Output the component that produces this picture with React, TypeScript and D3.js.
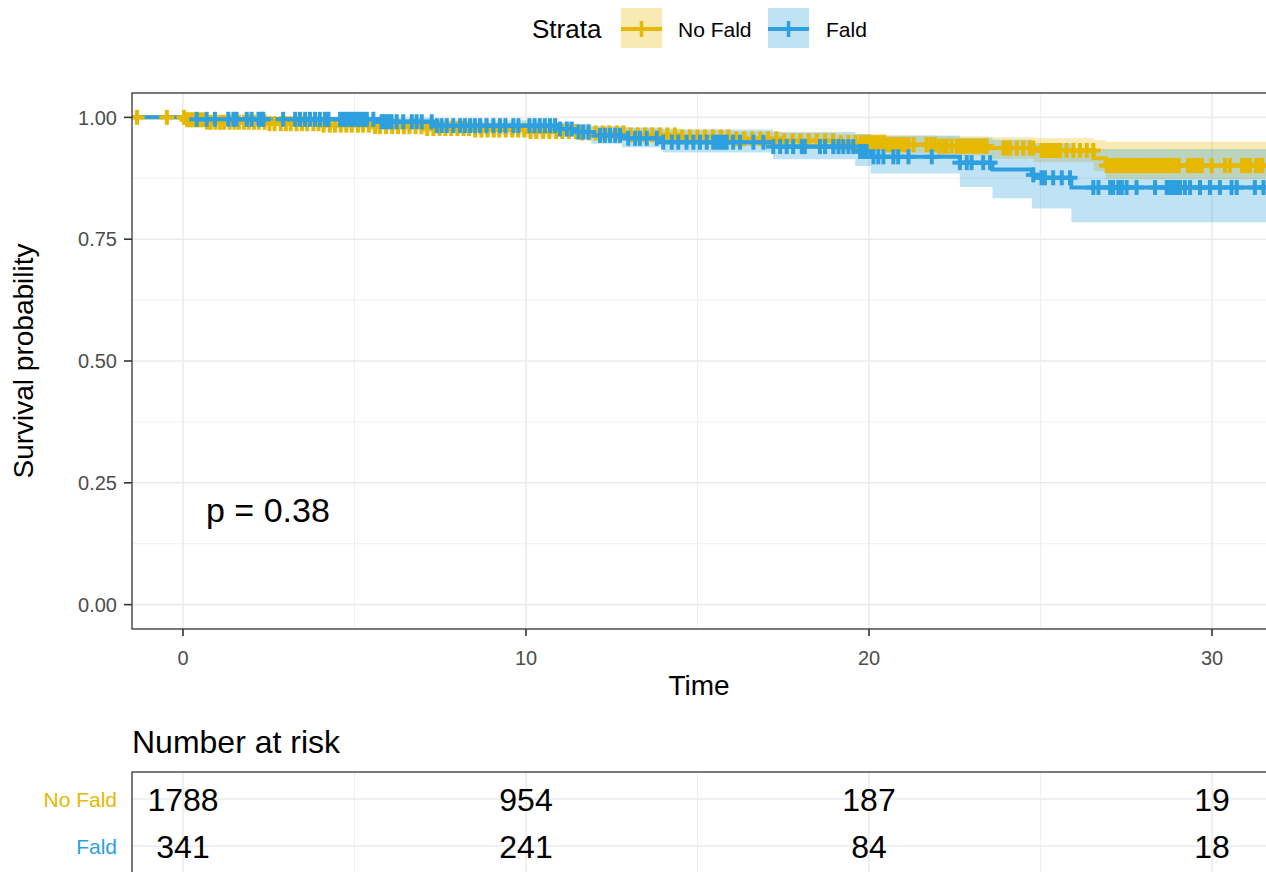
import React from "react";
import * as d3 from "d3";

// strata + palette
const strataNames = ["No Fald", "Fald"];
const strataColors = ["#E7B800", "#2E9FDF"];

// Kaplan-Meier steps
const noFaldTime = [-1.45, 0.05, 0.6, 2.5, 4.0, 5.5, 7.0, 8.5, 10.0, 11.5, 13.0, 14.5, 16.0, 17.5, 19.0, 20.5, 22.0, 23.5, 24.8, 26.55, 26.9];
const noFaldSurv = [1, 0.995, 0.99, 0.987, 0.984, 0.981, 0.977, 0.974, 0.971, 0.968, 0.964, 0.96, 0.956, 0.952, 0.948, 0.944, 0.941, 0.937, 0.932, 0.916, 0.901];
const noFaldLower = [1, 0.992, 0.985, 0.981, 0.977, 0.973, 0.968, 0.964, 0.96, 0.956, 0.951, 0.946, 0.941, 0.936, 0.931, 0.926, 0.921, 0.915, 0.908, 0.89, 0.873];
const noFaldUpper = [1, 0.998, 0.995, 0.993, 0.991, 0.989, 0.986, 0.984, 0.982, 0.98, 0.977, 0.974, 0.971, 0.968, 0.966, 0.963, 0.961, 0.959, 0.957, 0.953, 0.95];

const faldTime = [-1.45, 0.3, 5.7, 7.3, 10.9, 11.4, 11.9, 12.8, 14.0, 17.2, 19.6, 20.05, 22.65, 23.6, 24.75, 25.0, 25.9];
const faldSurv = [1, 0.996, 0.991, 0.983, 0.976, 0.97, 0.963, 0.957, 0.949, 0.94, 0.93, 0.919, 0.907, 0.893, 0.882, 0.876, 0.856];
const faldLower = [1, 0.99, 0.983, 0.972, 0.962, 0.954, 0.946, 0.938, 0.928, 0.914, 0.9, 0.885, 0.857, 0.834, 0.813, 0.813, 0.785];
const faldUpper = [1, 1, 0.999, 0.994, 0.99, 0.987, 0.983, 0.979, 0.975, 0.97, 0.966, 0.963, 0.958, 0.954, 0.947, 0.947, 0.935];

// censoring times
const noFaldCensor = [-1.34, -0.47, 0.03, 0.12, 0.2, 0.29, 0.38, 0.47, 0.58, 0.7, 0.81, 0.95, 1.08, 1.2, 1.36, 1.5, 1.63, 1.78, 1.92, 2.07, 2.21, 2.38, 2.52, 2.67, 2.85, 3.0, 3.14, 3.31, 3.47, 3.62, 3.8, 3.95, 4.1, 4.28, 4.43, 4.6, 4.76, 4.92, 5.1, 5.25, 5.42, 5.6, 5.74, 5.92, 6.1, 6.27, 6.44, 6.6, 6.78, 6.95, 7.12, 7.3, 7.48, 7.65, 7.82, 8.0, 8.18, 8.34, 8.52, 8.7, 8.88, 9.06, 9.22, 9.41, 9.6, 9.77, 9.95, 10.13, 10.3, 10.5, 10.68, 10.88, 11.06, 11.25, 11.45, 11.63, 11.84, 12.03, 12.24, 12.43, 12.65, 12.84, 13.05, 13.26, 13.47, 13.68, 13.9, 14.12, 14.34, 14.55, 14.78, 15.0, 15.22, 15.45, 15.68, 15.9, 16.13, 16.36, 16.6, 16.83, 17.06, 17.3, 17.53, 17.77, 18.0, 18.24, 18.48, 18.72, 18.95, 19.18, 19.4, 19.6, 19.75, 19.85, 19.95, 20.05, 20.15, 20.25, 20.35, 20.45, 20.55, 20.65, 20.75, 20.85, 20.95, 21.05, 21.15, 21.3, 21.68, 21.8, 21.92, 22.05, 22.17, 22.27, 22.41, 22.56, 22.65, 22.75, 22.85, 22.95, 23.05, 23.15, 23.25, 23.35, 23.43, 23.92, 24.0, 24.11, 24.31, 24.5, 24.69, 24.79, 25.03, 25.12, 25.21, 25.3, 25.39, 25.48, 25.57, 25.76, 25.96, 26.15, 26.35, 26.54, 26.93, 27.03, 27.13, 27.23, 27.33, 27.43, 27.53, 27.63, 27.73, 27.83, 27.93, 28.03, 28.13, 28.23, 28.33, 28.43, 28.53, 28.63, 28.73, 28.83, 28.93, 29.03, 29.3, 29.4, 29.5, 29.6, 29.7, 29.99, 30.38, 30.52, 30.87, 30.95, 31.03, 31.11, 31.28, 31.38, 31.47];
const faldCensor = [0.4, 0.69, 0.93, 1.32, 1.47, 1.56, 1.86, 2.0, 2.2, 2.29, 2.34, 2.92, 3.27, 3.41, 3.56, 3.7, 3.85, 3.99, 4.14, 4.24, 4.58, 4.67, 4.77, 4.87, 4.97, 5.06, 5.16, 5.26, 5.36, 5.55, 5.79, 5.89, 5.99, 6.08, 6.23, 6.42, 6.67, 6.81, 6.96, 7.25, 7.4, 7.54, 7.69, 7.88, 8.08, 8.22, 8.37, 8.51, 8.66, 8.85, 9.05, 9.24, 9.4, 9.63, 9.78, 10.1, 10.25, 10.4, 10.55, 10.7, 10.85, 10.99, 11.19, 11.33, 11.53, 11.67, 11.82, 12.16, 12.3, 12.45, 12.6, 12.74, 12.98, 13.18, 13.32, 13.52, 13.81, 14.0, 14.25, 14.44, 14.68, 14.88, 15.07, 15.27, 15.46, 15.56, 15.66, 15.76, 15.85, 16.04, 16.24, 16.63, 16.92, 17.21, 17.41, 17.6, 17.79, 18.04, 18.13, 18.57, 18.72, 18.96, 19.11, 19.25, 19.4, 19.54, 19.74, 19.84, 19.93, 20.13, 20.27, 20.42, 20.71, 20.85, 21.15, 21.83, 22.65, 22.85, 22.99, 23.33, 23.53, 24.79, 25.03, 25.13, 25.37, 25.62, 25.86, 26.54, 26.69, 27.03, 27.12, 27.27, 27.37, 27.51, 27.8, 28.34, 28.68, 28.75, 28.82, 28.9, 28.97, 29.07, 29.21, 29.36, 29.65, 29.94, 30.23, 30.57, 30.72, 31.25, 31.5];

const maxTime = 31.7;

// axes + risk table
const xTicks = [0, 10, 20, 30];
const xMinorTicks = [5, 15, 25];
const yTicks = [0, 0.25, 0.5, 0.75, 1];
const yMinorTicks = [0.125, 0.375, 0.625, 0.875];
const riskTimes = [0, 10, 20, 30];
const noFaldRisk = [1788, 954, 187, 19];
const faldRisk = [341, 241, 84, 18];
const pLabel = "p = 0.38";

const FONT = "'Liberation Sans', Arial, sans-serif";

export default function App() {
  const width = 1266;
  const height = 872;

  const x = d3.scaleLinear().domain([0, 30]).range([183, 1212]);
  const y = d3.scaleLinear().domain([-0.05, 1.05]).range([629, 93]);
  const panel = { left: 132, top: 93, bottom: 629, right: 1290 };

  const riskY = d3.scalePoint().domain(strataNames).range([799, 846]);
  const riskPanel = { top: 772, bottom: 874 };

  const series = [
    { name: "No Fald", color: strataColors[0], time: noFaldTime, surv: noFaldSurv, lower: noFaldLower, upper: noFaldUpper, censor: noFaldCensor, risk: noFaldRisk },
    { name: "Fald", color: strataColors[1], time: faldTime, surv: faldSurv, lower: faldLower, upper: faldUpper, censor: faldCensor, risk: faldRisk },
  ];

  const line = d3.line<[number, number]>()
    .x(d => x(d[0]))
    .y(d => y(d[1]))
    .curve(d3.curveStepAfter);

  const band = d3.area<[number, number, number]>()
    .x(d => x(d[0]))
    .y0(d => y(d[1]))
    .y1(d => y(d[2]))
    .curve(d3.curveStepAfter);

  const stepPts = (s) => {
    const pts = s.time.map((t, i) => [t, s.surv[i]]);
    pts.push([maxTime, s.surv[s.surv.length - 1]]);
    return pts;
  };
  const bandPts = (s) => {
    const pts = s.time.map((t, i) => [t, s.lower[i], s.upper[i]]);
    const n = s.time.length - 1;
    pts.push([maxTime, s.lower[n], s.upper[n]]);
    return pts;
  };
  const survAt = (s, t) => {
    const i = Math.max(0, d3.bisectRight(s.time, t) - 1);
    return s.surv[i];
  };

  const gridCol = "#EBEBEB";
  const axisCol = "#333333";
  const tickText = "#4D4D4D";

  return (
    <svg width={width} height={height} style={{ position: "absolute", left: 0, top: 0, background: "#fff" }} fontFamily={FONT}>
      <rect x={0} y={0} width={width} height={height} fill="#fff" />

      {/* legend */}
      <text x={532} y={38} fontSize={26} fill="#000">Strata</text>
      {series.map((s, i) => {
        const kx = i === 0 ? 621 : 768;
        const tx = i === 0 ? 678 : 826;
        return (
          <g key={s.name}>
            <rect x={kx} y={8} width={41} height={40} fill={s.color} fillOpacity={0.3} />
            <line x1={kx} x2={kx + 41} y1={29} y2={29} stroke={s.color} strokeWidth={4} />
            <line x1={kx + 20.5} x2={kx + 20.5} y1={21} y2={37} stroke={s.color} strokeWidth={3.5} />
            <text x={tx} y={37} fontSize={21} fill="#000">{s.name}</text>
          </g>
        );
      })}

      {/* survival panel */}
      <defs>
        <clipPath id="panelClip">
          <rect x={panel.left} y={panel.top} width={panel.right - panel.left} height={panel.bottom - panel.top} />
        </clipPath>
      </defs>
      <rect x={panel.left} y={panel.top} width={panel.right - panel.left} height={panel.bottom - panel.top} fill="#fff" />
      {yMinorTicks.map(v => (
        <line key={"ym" + v} x1={panel.left} x2={panel.right} y1={y(v)} y2={y(v)} stroke={gridCol} strokeWidth={0.8} />
      ))}
      {xMinorTicks.map(v => (
        <line key={"xm" + v} x1={x(v)} x2={x(v)} y1={panel.top} y2={panel.bottom} stroke={gridCol} strokeWidth={0.8} />
      ))}
      {yTicks.map(v => (
        <line key={"yg" + v} x1={panel.left} x2={panel.right} y1={y(v)} y2={y(v)} stroke={gridCol} strokeWidth={1.6} />
      ))}
      {xTicks.map(v => (
        <line key={"xg" + v} x1={x(v)} x2={x(v)} y1={panel.top} y2={panel.bottom} stroke={gridCol} strokeWidth={1.6} />
      ))}

      <g clipPath="url(#panelClip)">
        {series.map(s => (
          <path key={"band" + s.name} d={band(bandPts(s))} fill={s.color} fillOpacity={0.3} stroke="none" />
        ))}
        {series.map(s => (
          <path key={"line" + s.name} d={line(stepPts(s))} fill="none" stroke={s.color} strokeWidth={4} />
        ))}
        {series.map(s => (
          <g key={"cens" + s.name} stroke={s.color} strokeWidth={4}>
            {s.censor.map((t, j) => {
              const cx = x(t);
              const cy = y(survAt(s, t));
              return (
                <g key={j}>
                  <line x1={cx} x2={cx} y1={cy - 7.5} y2={cy + 7.5} />
                  <line x1={cx - 7.5} x2={cx + 7.5} y1={cy} y2={cy} />
                </g>
              );
            })}
          </g>
        ))}
      </g>

      <text x={206} y={522} fontSize={34} fill="#000">{pLabel}</text>

      <rect x={panel.left} y={panel.top} width={panel.right - panel.left} height={panel.bottom - panel.top} fill="none" stroke={axisCol} strokeWidth={1.3} />

      {/* y axis */}
      {yTicks.map(v => (
        <g key={"yt" + v}>
          <line x1={124} x2={panel.left} y1={y(v)} y2={y(v)} stroke={axisCol} strokeWidth={1.6} />
          <text x={117} y={y(v)} dy="0.36em" textAnchor="end" fontSize={20} fill={tickText}>{v.toFixed(2)}</text>
        </g>
      ))}
      <text transform={`translate(33, ${(panel.top + panel.bottom) / 2}) rotate(-90)`} textAnchor="middle" fontSize={28} fill="#000">Survival probability</text>

      {/* x axis */}
      {xTicks.map(v => (
        <g key={"xt" + v}>
          <line x1={x(v)} x2={x(v)} y1={panel.bottom} y2={panel.bottom + 7} stroke={axisCol} strokeWidth={1.6} />
          <text x={x(v)} y={665} textAnchor="middle" fontSize={20} fill={tickText}>{v}</text>
        </g>
      ))}
      <text x={699} y={695} textAnchor="middle" fontSize={28} fill="#000">Time</text>

      {/* risk table */}
      <text x={132} y={753} fontSize={32} fill="#000">Number at risk</text>
      <rect x={panel.left} y={riskPanel.top} width={panel.right - panel.left} height={riskPanel.bottom - riskPanel.top} fill="#fff" />
      {xMinorTicks.map(v => (
        <line key={"rxm" + v} x1={x(v)} x2={x(v)} y1={riskPanel.top} y2={riskPanel.bottom} stroke={gridCol} strokeWidth={0.8} />
      ))}
      {xTicks.map(v => (
        <line key={"rxg" + v} x1={x(v)} x2={x(v)} y1={riskPanel.top} y2={riskPanel.bottom} stroke={gridCol} strokeWidth={1.6} />
      ))}
      {strataNames.map(n => (
        <line key={"ryg" + n} x1={panel.left} x2={panel.right} y1={riskY(n)} y2={riskY(n)} stroke={gridCol} strokeWidth={1.6} />
      ))}
      {series.map(s => (
        <g key={"risk" + s.name}>
          <text x={117} y={riskY(s.name)} dy="0.36em" textAnchor="end" fontSize={21} fill={s.color}>{s.name}</text>
          {s.risk.map((n, j) => (
            <text key={j} x={x(riskTimes[j])} y={riskY(s.name)} dy="0.36em" textAnchor="middle" fontSize={32} fill="#000">{n}</text>
          ))}
        </g>
      ))}
      <rect x={panel.left} y={riskPanel.top} width={panel.right - panel.left} height={riskPanel.bottom - riskPanel.top} fill="none" stroke={axisCol} strokeWidth={1.3} />
    </svg>
  );
}
